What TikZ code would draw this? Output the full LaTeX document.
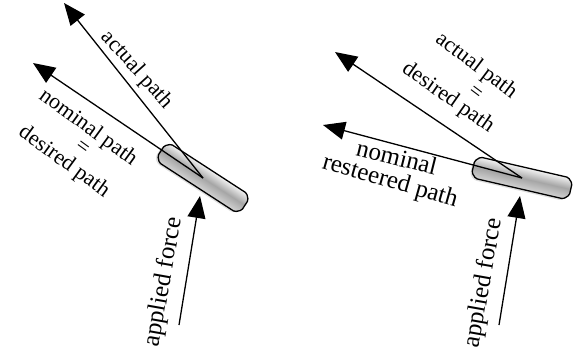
\documentclass[tikz,border=0pt]{standalone}
\usepackage{fontspec}
\setmainfont{Liberation Serif}
\usetikzlibrary{arrows.meta}
\begin{document}
\begin{tikzpicture}[x=1pt,y=-1pt,
  arr/.style={line width=1.3pt, -{Triangle[length=22pt,width=18pt]}},
  lbl/.style={inner sep=0pt, font=\fontsize{22}{22}\selectfont},
  lblb/.style={inner sep=0pt, font=\fontsize{25}{25}\selectfont},
  barshape/.style={insert path={(-45,-11) -- (45,-11) -- (50,-6) -- (50,6) -- (45,11) -- (-45,11) -- (-50,6) -- (-50,-6) -- cycle}},
  barfill/.style={top color=gray!10, bottom color=gray!35, middle color=gray!70, draw=black, line width=1.3pt, rounded corners=1.5pt},
  barshadow/.style={fill=gray!25, rounded corners=3pt}
]
\useasboundingbox (0,0) rectangle (581,356);

% ---------- left panel ----------
\coordinate (c1) at (203,178);
\coordinate (a1) at (64,3);
\coordinate (n1) at (33,63);
\coordinate (f1s) at (179,325);
\coordinate (f1e) at (200,196);

\begin{scope}[shift={(c1)}, transform canvas={rotate around={-33:(c1)}}]
  \path[barshadow, shift={(-1.5,2)}] [barshape];
  \path[barfill] [barshape];
\end{scope}

\draw[arr] (c1) -- (a1);
\draw[arr] (c1) -- (n1);
\draw[arr] (f1s) -- (f1e);

\node[lbl, rotate=-48] (la1) at (137,70) {actual path};
\node[lbl, rotate=-36] (ln1) at (88,128) {nominal path};
\node[lbl, rotate=-36] (le1) at (82,148) {=};
\node[lbl, rotate=-36] (ld1) at (64,162) {desired path};
\node[lblb, rotate=80] (lf1) at (164,282) {applied force};

% ---------- right panel ----------
\coordinate (c2) at (522,178);
\coordinate (a2) at (335,52);
\coordinate (n2) at (323,125);
\coordinate (f2s) at (499,325);
\coordinate (f2e) at (520,196);

\begin{scope}[shift={(c2)}, transform canvas={rotate around={-13:(c2)}}]
  \path[barshadow, shift={(-1.5,2)}] [barshape];
  \path[barfill] [barshape];
\end{scope}

\draw[arr] (c2) -- (a2);
\draw[arr] (c2) -- (n2);
\draw[arr] (f2s) -- (f2e);

\node[lbl, rotate=-37] (la2) at (476,66) {actual path};
\node[lbl, rotate=-37] (le2) at (475,93) {=};
\node[lbl, rotate=-35] (ld2) at (448,98) {desired path};
\node[lblb, rotate=-14] (ln2) at (397,157) {nominal};
\node[lblb, rotate=-16] (lr2) at (390,182) {resteered path};
\node[lblb, rotate=80] (lf2) at (484,283) {applied force};
\end{tikzpicture}
\end{document}
